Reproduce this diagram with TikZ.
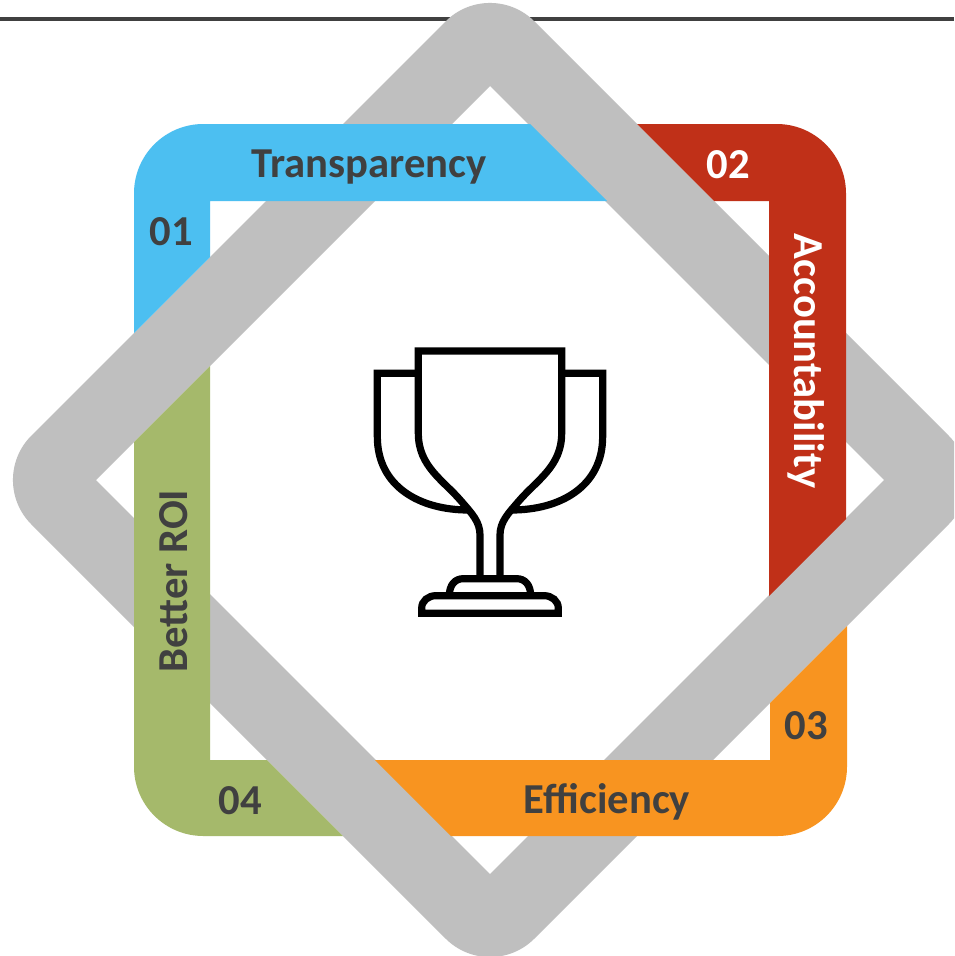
\documentclass[tikz,border=0pt]{standalone}
\usepackage{fontspec}
\setmainfont{Carlito}
\definecolor{cblue}{RGB}{76,191,241}
\definecolor{cred}{RGB}{192,48,24}
\definecolor{corange}{RGB}{248,148,32}
\definecolor{cgreen}{RGB}{165,185,107}
\definecolor{cgray}{RGB}{191,191,191}
\definecolor{cdark}{RGB}{64,64,64}
\tikzset{
  lbl/.style={font=\fontsize{32pt}{36pt}\selectfont\bfseries,text=cdark,inner sep=0pt,anchor=center},
  lblw/.style={lbl,text=white},
  trophyline/.style={draw=black,line width=5.4pt,line join=miter,fill=none},
  ringcorner/.style={rounded corners=52pt}
}
\begin{document}
\begin{tikzpicture}[x=0.75pt,y=-0.75pt]
\useasboundingbox (0,0) rectangle (954,956);
\clip (0,0) rectangle (954,956);
\fill[white] (0,0) rectangle (954,956);
\draw[cdark,line width=2.4pt] (0,19) -- (954,19);
% grey diamond
\fill[cgray,even odd rule]
  [rounded corners=47pt] (490,-23) -- (993,480) -- (490,983) -- (-13,480) -- cycle
  [sharp corners] (490,86) -- (884,480) -- (490,874) -- (96,480) -- cycle;
% coloured ring segments
\fill[cblue] (134,333) [ringcorner] -- (134,124) [sharp corners] -- (530,124) -- (607,201) -- (210,201) -- (210,257) -- cycle;
\fill[cred] (637,124) [ringcorner] -- (846,124) [sharp corners] -- (846,519) -- (769,596) -- (769,201) -- (714,201) -- cycle;
\fill[corange] (847,626) [ringcorner] -- (847,836) [sharp corners] -- (451,836) -- (375,760) -- (770,760) -- (770,703) -- cycle;
\fill[cgreen] (343,836) [ringcorner] -- (134,836) [sharp corners] -- (134,442) -- (210,366) -- (210,760) -- (267,760) -- cycle;
% labels
\node[lbl] (t) at (369,167) {Transparency};
\node[lbl] (n1) at (171,232) {01};
\node[lblw] (n2) at (728,165) {02};
\node[lblw,rotate=-90] (a) at (806,361) {Accountability};
\node[lbl] (n3) at (806,726) {03};
\node[lbl] (e) at (607,802) {Efficiency};
\node[lbl] (n4) at (240,801) {04};
\node[lbl,rotate=90] (b) at (174,581) {Better ROI};
% trophy
\begin{scope}[shift={(360,330)},scale=1/3]
\draw[trophyline] (360,745) -- (360,615) .. controls (360,575) and (335,550) .. (305,515)
  .. controls (250,450) and (175,410) .. (175,310) -- (175,63) -- (605,63) -- (605,310)
  .. controls (605,410) and (530,450) .. (475,515)
  .. controls (445,550) and (420,575) .. (420,615) -- (420,745);
\draw[trophyline] (175,130) -- (52,130) -- (52,320) .. controls (52,470) and (180,540) .. (325,540);
\draw[trophyline] (605,130) -- (728,130) -- (728,320) .. controls (728,470) and (600,540) .. (455,540);
\draw[trophyline] (268,797) .. controls (268,765) and (285,746) .. (310,746) -- (470,746) .. controls (495,746) and (512,765) .. (512,797);
\draw[trophyline] (185,850) -- (185,835) .. controls (185,812) and (205,797) .. (228,797) -- (552,797) .. controls (575,797) and (595,812) .. (595,835) -- (595,850) -- cycle;
\end{scope}
\end{tikzpicture}
\end{document}
